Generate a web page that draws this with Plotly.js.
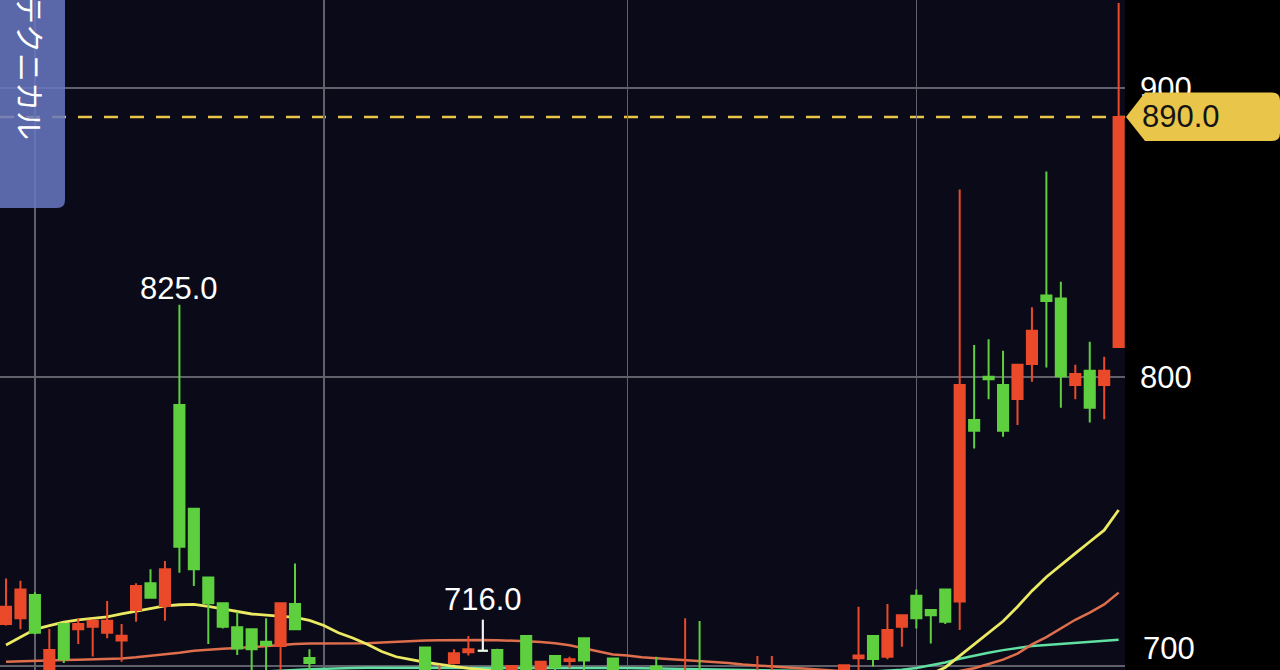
<!DOCTYPE html>
<html><head><meta charset="utf-8">
<script src="https://cdn.plot.ly/plotly-3.0.1.min.js"></script>
<style>html,body{margin:0;padding:0;background:#000;overflow:hidden}#chart{width:1280px;height:670px}</style>
</head><body><div id="chart"></div>
<script>
// ---- data (candles below the visible floor are estimates) ----
const opens = [714.5,716.5,724.6,695.0,714.5,712.7,713.6,711.5,708.8,719.4,
728.6,720.8,790.3,754.4,730.6,721.7,713.4,712.7,708.4,706.9,
721.5,702.8,697.0,690.0,693.0,688.0,692.0,695.0,690.0,706.4,
694.0,701.0,704.8,705.3,705.5,696.0,710.4,696.0,703.5,701.7,
709.6,697.0,702.6,695.0,690.0,699.8,696.0,690.0,695.0,692.0,
689.0,692.0,688.0,692.0,696.0,690.0,693.0,689.0,694.0,702.7,
710.4,703.2,713.6,724.3,719.4,726.5,722.3,785.1,800.1,797.2,
792.4,804.5,828.2,827.2,797.2,802.2,797.2,810.4];
const highs = [730.3,729.5,725.5,712.8,715.0,716.5,716.2,722.5,714.5,728.6,
733.5,736.3,825.0,754.4,730.6,721.7,718.8,712.7,716.5,721.7,
735.5,705.8,698.0,695.0,696.0,694.0,697.0,697.5,697.0,706.4,
700.3,705.8,710.4,716.0,706.0,700.0,710.4,701.5,703.5,703.2,
709.6,698.0,702.6,697.5,696.0,703.2,697.5,716.5,715.6,697.0,
694.0,696.0,703.5,703.5,697.5,695.0,697.0,696.0,700.5,720.5,
710.4,721.5,717.6,726.5,719.4,726.5,864.9,811.1,813.1,809.1,
804.2,824.1,871.1,833.0,804.2,812.2,807.0,929.4];
const lows = [714.0,712.7,711.0,692.0,701.0,707.6,703.3,709.6,701.5,715.3,
723.6,715.7,732.3,727.7,707.6,713.0,703.8,695.0,695.0,696.0,
712.7,697.0,688.0,684.0,686.0,683.0,687.0,689.0,686.0,694.0,
692.0,700.5,703.6,705.3,694.0,694.0,694.0,694.0,697.0,699.2,
697.0,689.0,695.0,688.0,686.0,693.0,689.0,688.0,688.0,686.0,
684.0,687.0,686.0,689.0,688.0,685.0,688.0,686.0,690.0,696.0,
699.8,702.3,706.7,713.0,707.8,714.5,712.5,775.3,792.3,779.3,
783.4,798.4,803.3,789.4,792.3,784.3,785.4,810.4];
const closes = [720.5,726.5,711.5,705.5,702.3,714.5,715.7,715.7,710.5,727.7,
723.6,733.5,741.3,733.5,721.7,713.6,706.1,705.8,707.3,721.7,
712.7,701.0,690.0,693.0,688.0,692.0,695.0,690.0,696.0,697.0,
697.5,704.4,705.8,705.3,697.0,700.0,697.0,701.5,699.6,702.3,
701.9,691.0,697.0,690.0,694.0,696.0,691.0,695.0,692.0,689.0,
692.0,688.0,693.0,696.0,690.0,693.0,689.0,694.0,700.3,703.6,
702.4,712.5,717.6,716.5,717.6,715.3,797.2,781.4,799.2,781.4,
804.2,816.0,826.3,800.3,801.0,789.4,802.2,890.0];

const maShort = [707.3,710.0,712.7,714.0,715.2,716.0,716.5,717.0,718.0,719.0,
720.0,720.8,721.2,721.3,720.6,719.8,718.8,718.0,717.6,717.3,
716.8,715.8,714.0,711.5,709.7,707.5,705.0,703.2,702.2,701.3,
700.6,699.8,699.2,698.7,698.2,697.8,697.3,696.8,696.3,695.8,
695.4,695.0,694.6,694.2,693.9,693.6,693.3,693.0,692.8,692.6,
692.4,692.2,692.0,691.9,691.8,691.7,691.6,691.6,691.7,692.0,
692.5,693.3,694.3,695.5,697.2,699.5,703.5,707.5,711.3,715.5,
720.5,726.0,730.8,735.0,739.0,743.0,747.0,754.0];
const maMid = [701.5,701.7,701.9,702.0,702.1,702.2,702.3,702.5,702.6,703.0,
703.5,704.0,704.6,705.3,705.7,706.0,706.2,706.6,706.9,707.2,
707.6,707.8,707.8,707.8,707.8,707.9,708.1,708.4,708.7,708.8,
708.9,709.0,709.0,709.0,708.9,708.8,708.6,708.3,707.9,707.2,
706.2,705.0,704.0,703.6,703.0,702.7,702.4,702.1,701.8,701.4,
701.0,700.5,700.2,699.9,699.6,699.3,699.0,698.6,698.2,697.8,
697.4,697.0,696.6,696.4,696.3,696.5,698.3,699.2,700.7,702.2,
704.3,707.5,710.0,713.0,716.0,718.5,721.3,725.4];
const maLong = [695.5,695.6,695.7,695.8,695.9,696.0,696.1,696.2,696.3,696.4,
696.5,696.6,696.8,697.0,697.2,697.4,697.6,697.8,698.0,698.3,
698.6,698.9,699.1,699.2,699.3,699.4,699.4,699.5,699.5,699.5,
699.5,699.5,699.5,699.5,699.5,699.5,699.5,699.5,699.4,699.4,
699.4,699.3,699.3,699.3,699.2,699.2,699.1,699.0,698.9,698.8,
698.7,698.6,698.5,698.4,698.3,698.2,698.1,698.0,698.0,698.0,
698.1,698.3,698.7,699.3,700.2,701.2,702.5,703.6,704.6,705.5,
706.2,706.9,707.3,707.7,708.1,708.5,708.8,709.1];

const xGridIdx = [2, 22, 43, 63];
const yTickVals = [700, 800, 900];
const yTickText = ['700', '800', '900'];
const markIdx = [12, 33];
const markText = ['825.0', '716.0'];
const dojiIdx = 33;
const lastText = '890.0';
const tabText = 'テクニカル';

// ---- chart ----
const idx = opens.map((_, i) => i);
const lastClose = closes[closes.length - 1];
const yRange = [698.62, 930.45];
const xRange = [-0.415, 77.44];
const RED = '#ea4a2a', GREEN = '#5ecf3e', GOLD = '#e9c54a', GRID = '#60606a';
const NUMFONT = 'Liberation Sans, Arial, sans-serif';

const traces = [
  {type:'scatter', mode:'lines', x:idx, y:maLong, line:{color:'#62dfa2', width:2.5}},
  {type:'scatter', mode:'lines', x:idx, y:maMid, line:{color:'#df6f4c', width:2.5}},
  {type:'scatter', mode:'lines', x:idx, y:maShort, line:{color:'#ecea62', width:2.8}},
  {type:'candlestick', x:idx, open:opens, high:highs, low:lows, close:closes,
   xaxis:'x', yaxis:'y2', whiskerwidth:0,
   increasing:{line:{color:RED, width:2}, fillcolor:RED},
   decreasing:{line:{color:GREEN, width:2}, fillcolor:GREEN}},
  {type:'candlestick', x:[dojiIdx], open:[opens[dojiIdx]], high:[highs[dojiIdx]],
   low:[lows[dojiIdx]], close:[closes[dojiIdx]], xaxis:'x', yaxis:'y2', whiskerwidth:0,
   increasing:{line:{color:'#f2f2f2', width:2}, fillcolor:'#f2f2f2'},
   decreasing:{line:{color:'#f2f2f2', width:2}, fillcolor:'#f2f2f2'}}
];

const annotations = [
  {xref:'paper', x:1141/1125, xanchor:'left', yref:'y', y:yTickVals[0], yshift:18, yanchor:'middle',
   text:yTickText[0], showarrow:false, font:{family:NUMFONT, size:31, color:'#ffffff'}},
  {xref:'x', x:markIdx[0], yref:'y', y:highs[markIdx[0]], yshift:16, xanchor:'center', yanchor:'middle',
   text:markText[0], showarrow:false, font:{family:NUMFONT, size:31, color:'#ffffff'}},
  {xref:'x', x:markIdx[1], yref:'y', y:highs[markIdx[1]], yshift:20, xanchor:'center', yanchor:'middle',
   text:markText[1], showarrow:false, font:{family:NUMFONT, size:31, color:'#ffffff'}},
  {xref:'paper', x:1181/1125, xanchor:'center', yref:'y', y:lastClose, yanchor:'middle',
   text:lastText, showarrow:false, font:{family:NUMFONT, size:31, color:'#141414'}},
  {xref:'paper', x:31/1125, xanchor:'center', yref:'paper', y:(670-67)/670, yanchor:'middle',
   text:tabText, textangle:90, showarrow:false,
   font:{family:'Noto Sans CJK JP, sans-serif', size:29, color:'#ffffff'}}
];

const shapes = [
  {type:'line', xref:'paper', x0:0, x1:1, yref:'y', y0:lastClose, y1:lastClose,
   line:{color:GOLD, width:2.5, dash:'14px,12px'}, layer:'between'},
  {type:'path', xref:'paper', yref:'paper', xsizemode:'pixel', ysizemode:'pixel',
   xanchor:0, yanchor:1, path:'M0,6 L65,6 L65,-200 Q65,-208 57,-208 L0,-208 Z',
   fillcolor:'rgba(104,119,193,0.86)', line:{width:0}, layer:'above'},
  {type:'path', xref:'paper', yref:'y', xsizemode:'pixel', ysizemode:'pixel',
   xanchor:1, yanchor:lastClose,
   path:'M1,0 L20,24.5 L147,24.5 Q155,24.5 155,16.5 L155,-16 Q155,-24 147,-24 L20,-24 Z',
   fillcolor:GOLD, line:{width:0}, layer:'above'}
];

const layout = {
  width:1280, height:670,
  margin:{l:0, r:155, t:0, b:0, pad:0},
  paper_bgcolor:'#000000', plot_bgcolor:'#0a0a18',
  showlegend:false,
  boxgap:0.3, boxgroupgap:0,
  xaxis:{range:xRange, tickvals:xGridIdx, showticklabels:false, showgrid:true,
         gridcolor:GRID, gridwidth:1.5, zeroline:false, showline:false, ticks:'',
         rangeslider:{visible:false}, fixedrange:true},
  yaxis:{side:'right', range:yRange, tickvals:yTickVals, ticktext:['', yTickText[1], yTickText[2]],
         showgrid:true, gridcolor:GRID, gridwidth:1.5, zeroline:false, showline:false,
         ticks:'', automargin:false, ticklabelstandoff:14,
         tickfont:{family:NUMFONT, size:31, color:'#ffffff'}},
  yaxis2:{overlaying:'y', side:'right', range:yRange, showgrid:false, showticklabels:false,
          zeroline:false, showline:false, ticks:''},
  shapes:shapes, annotations:annotations
};

Plotly.newPlot('chart', traces, layout, {staticPlot:true, displayModeBar:false});
</script></body></html>
